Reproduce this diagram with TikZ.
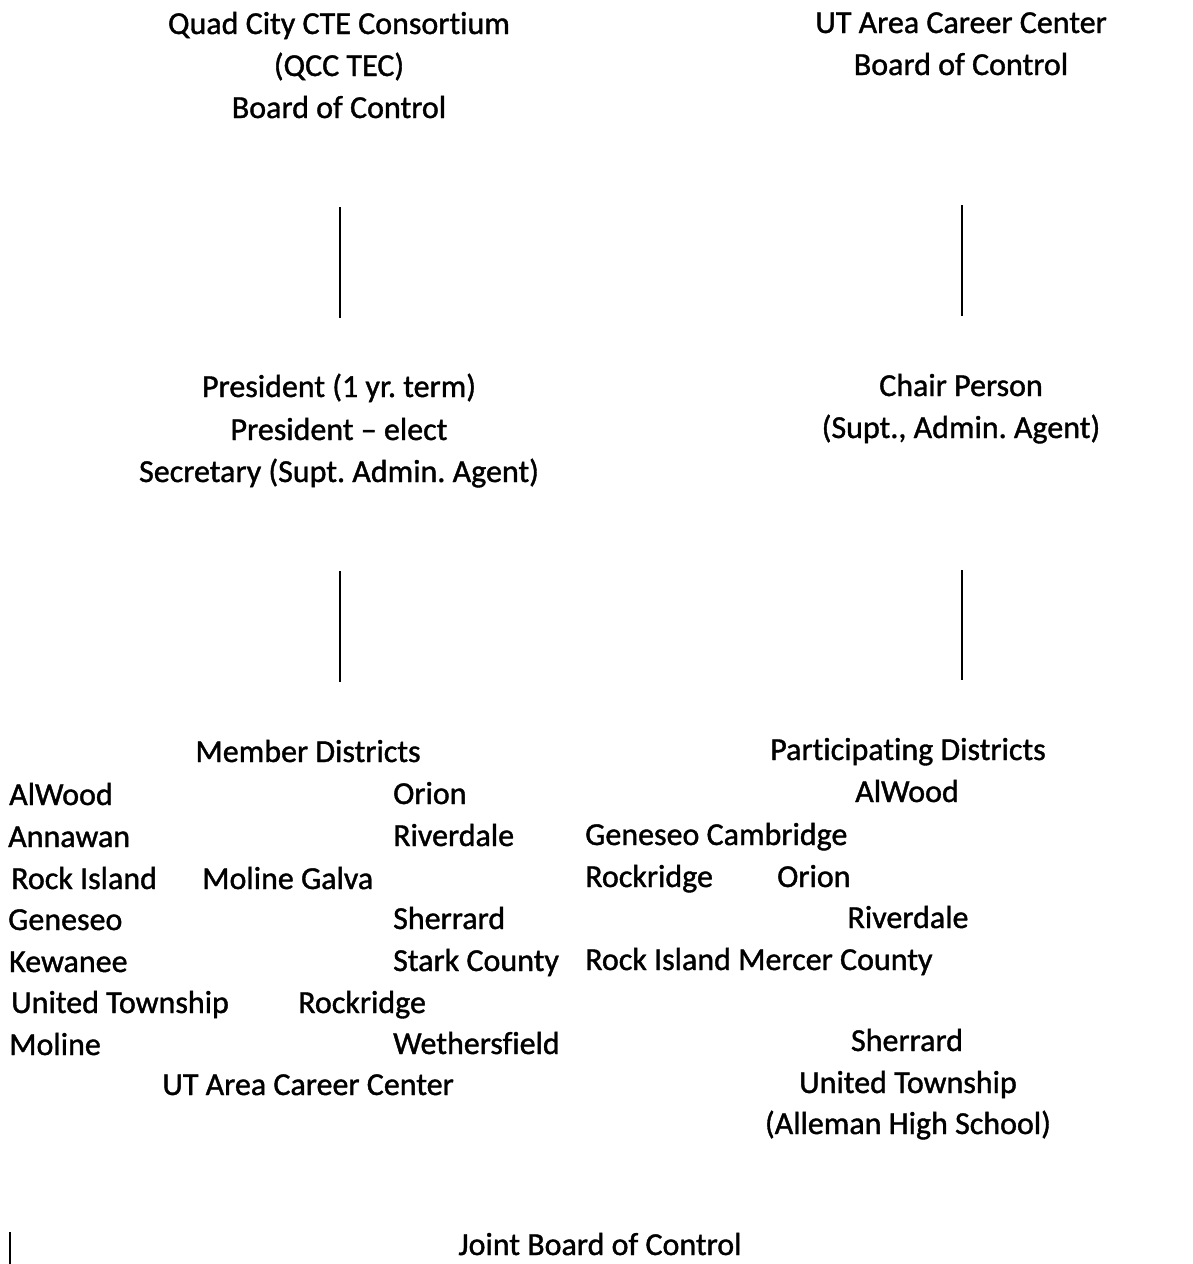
\documentclass[tikz,border=0pt]{standalone}
\usepackage{fontspec}
\setmainfont[Ligatures=NoCommon,RawFeature={-liga;-dlig},FakeBold=1.2]{Carlito}
\frenchspacing
\begin{document}
\begin{tikzpicture}[x=1pt,y=-1pt,
  txt/.style={inner sep=0pt, anchor=base, font=\fontsize{32}{40}\selectfont},
  txtl/.style={txt, anchor=base west},
  vline/.style={line width=1.8pt}]
\useasboundingbox (0,0) rectangle (1192,1264);
% top blocks
\node[txt] (q1) at (339,34) {Quad City CTE Consortium};
\node[txt] (q2) at (339,76) {(QCC TEC)};
\node[txt] (q3) at (339,118) {Board of Control};
\node[txt] (u1) at (961,33) {UT Area Career Center};
\node[txt] (u2) at (961,75) {Board of Control};
% connectors
\coordinate (a1) at (340,207); \coordinate (a2) at (340,318);
\coordinate (b1) at (962,205); \coordinate (b2) at (962,316);
\coordinate (c1) at (340,571); \coordinate (c2) at (340,682);
\coordinate (d1) at (962,570); \coordinate (d2) at (962,680);
\coordinate (e1) at (10,1232); \coordinate (e2) at (10,1264);
\draw[vline] (a1) -- (a2);
\draw[vline] (b1) -- (b2);
\draw[vline] (c1) -- (c2);
\draw[vline] (d1) -- (d2);
\draw[vline] (e1) -- (e2);
% middle blocks
\node[txt] (p1) at (339,397) {President (1 yr. term)};
\node[txt] (p2) at (339,440) {President -- elect};
\node[txt] (p3) at (339,482) {Secretary (Supt. Admin. Agent)};
\node[txt] (c1t) at (961,396) {Chair Person};
\node[txt] (c2t) at (961,438) {(Supt., Admin. Agent)};
% member districts
\node[txt] (md) at (308,762) {Member Districts};
\node[txtl] (m1) at (9,805) {AlWood};
\node[txtl] (m2) at (393,804) {Orion};
\node[txtl] (m3) at (8,847) {Annawan};
\node[txtl] (m4) at (393,846) {Riverdale};
\node[txtl] (m5) at (11,889) {Rock Island};
\node[txtl] (m6) at (202,889) {Moline Galva};
\node[txtl] (m7) at (8,930) {Geneseo};
\node[txtl] (m8) at (393,929) {Sherrard};
\node[txtl] (m9) at (9,972) {Kewanee};
\node[txtl] (m10) at (393,971) {Stark County};
\node[txtl] (m11) at (11,1013) {United Township};
\node[txtl] (m12) at (298,1013) {Rockridge};
\node[txtl] (m13) at (9,1055) {Moline};
\node[txtl] (m14) at (393,1054) {Wethersfield};
\node[txt] (m15) at (308,1095) {UT Area Career Center};
% participating districts
\node[txt] (pd) at (908,760) {Participating Districts};
\node[txt] (r1) at (907,802) {AlWood};
\node[txtl] (r2) at (585,845) {Geneseo Cambridge};
\node[txtl] (r3) at (585,887) {Rockridge};
\node[txtl] (r4) at (777,887) {Orion};
\node[txt] (r5) at (908,928) {Riverdale};
\node[txtl] (r6) at (585,970) {Rock Island Mercer County};
\node[txt] (r7) at (907,1051) {Sherrard};
\node[txt] (r8) at (908,1093) {United Township};
\node[txt] (r9) at (908,1134) {(Alleman High School)};
% bottom
\node[txt] (jb) at (600,1255) {Joint Board of Control};
\end{tikzpicture}
\end{document}
